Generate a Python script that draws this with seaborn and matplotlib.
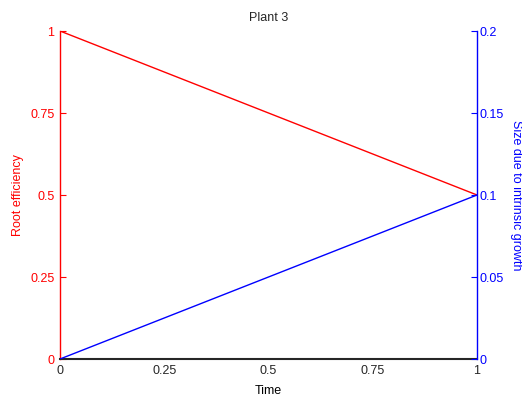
import matplotlib
matplotlib.use("Agg")
import matplotlib.pyplot as plt
from matplotlib.ticker import FuncFormatter
import seaborn as sns
import pandas as pd

# Data
time = [0.0, 1.0]
root_efficiency = [1.0, 0.5]
intrinsic_size = [0.0, 0.1]
x_ticks = [0, 0.25, 0.5, 0.75, 1]
left_ticks = [0, 0.25, 0.5, 0.75, 1]
right_ticks = [0, 0.05, 0.1, 0.15, 0.2]

sns.set_style("white")
plt.rcParams["font.family"] = ["Liberation Sans", "DejaVu Sans"]
plt.rcParams["font.size"] = 9

df = pd.DataFrame({"Time": time, "Root": root_efficiency, "Size": intrinsic_size})

fig = plt.figure(figsize=(5.22, 4.01), dpi=100)
ax = fig.add_axes([60 / 522, 1 - 359 / 401, (477 - 60) / 522, (359 - 31) / 401])
ax2 = ax.twinx()

red = "#ff0000"
blue = "#0000ff"

sns.lineplot(data=df, x="Time", y="Root", ax=ax, color=red, linewidth=1)
sns.lineplot(data=df, x="Time", y="Size", ax=ax2, color=blue, linewidth=1)

fmt = FuncFormatter(lambda v, p: f"{v:g}")

ax.set_xlim(0, 1)
ax.set_ylim(0, 1)
ax2.set_ylim(0, 0.2)
ax.set_xticks(x_ticks)
ax.set_yticks(left_ticks)
ax2.set_yticks(right_ticks)
ax.xaxis.set_major_formatter(fmt)
ax.yaxis.set_major_formatter(fmt)
ax2.yaxis.set_major_formatter(fmt)

for a in (ax, ax2):
    a.spines["top"].set_visible(False)
    a.patch.set_visible(False)
ax.spines["right"].set_visible(False)
ax2.spines["left"].set_visible(False)
ax2.spines["bottom"].set_visible(False)

ax.spines["left"].set_color(red)
ax2.spines["right"].set_color(blue)
ax.spines["bottom"].set_color("#262626")
ax.spines["bottom"].set_linewidth(1.5)
ax.spines["left"].set_linewidth(1)
ax2.spines["right"].set_linewidth(1)

ax.tick_params(axis="x", direction="in", length=4, colors="#262626", labelsize=9, pad=4)
ax.tick_params(axis="y", direction="in", length=4, colors=red, labelsize=9, pad=4)
ax2.tick_params(axis="y", direction="in", length=4, colors=blue, labelsize=9, pad=2)

ax.set_xlabel("Time", fontsize=9, color="#000000", labelpad=6)
ax.set_ylabel("Root efficiency", fontsize=9, color=red, va="center", ha="center")
ax.yaxis.set_label_coords(-0.101, 0.5)
ax2.set_ylabel("Size due to intrinsic growth", fontsize=9, color=blue,
               rotation=270, va="center", ha="center")
ax2.yaxis.set_label_coords(1.093, 0.5)
ax.set_title("Plant 3", fontsize=9, pad=7)

fig.savefig("out.png", dpi=100)
